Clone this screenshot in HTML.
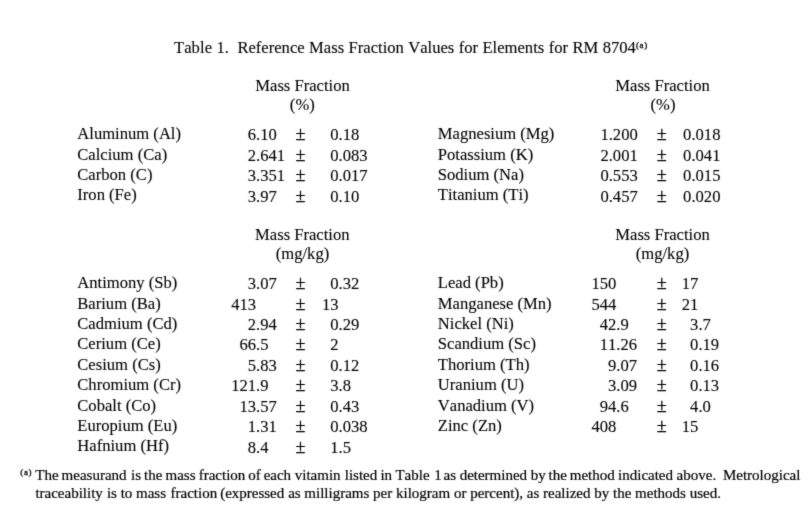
<!DOCTYPE html>
<html><head><meta charset="utf-8"><title>Table 1</title>
<style>
html,body{margin:0;padding:0;background:#fff;}
body{width:809px;height:512px;position:relative;overflow:hidden;font-family:"Liberation Serif",serif;color:#000;font-kerning:none;-webkit-text-stroke:0.1px #000;}
#w{position:absolute;left:0;top:0;width:809px;height:512px;will-change:transform;filter:url(#soft);}
.t{position:absolute;white-space:nowrap;line-height:1;}
.c{transform:translateX(-50%);}
.r{transform:translateX(-100%);}
.w{position:relative;}
.sup{font-size:9.0px;letter-spacing:0.65px;position:relative;top:-5.2px;margin-left:0.1px;-webkit-text-stroke:0.3px #000;}
.fsup{font-size:9.0px;letter-spacing:0.65px;position:relative;top:-5.1px;-webkit-text-stroke:0.3px #000;}
</style></head><body>
<svg width="0" height="0" style="position:absolute"><defs><filter id="soft" x="0" y="0" width="100%" height="100%" color-interpolation-filters="sRGB"><feConvolveMatrix order="3" preserveAlpha="false" divisor="1" kernelMatrix="0.02 0.08 0.02 0.08 0.6 0.08 0.02 0.08 0.02" edgeMode="duplicate"/></filter></defs></svg>
<div id="w">
<div id="i0" class="t" style="left:174.30px;top:40px;font-size:16.6px;word-spacing:0.27px;"><span class="w" style="left:-0.4px;letter-spacing:0.1px">Table</span> <span class="w" style="left:-0.5px">1.&nbsp;</span> <span class="w" style="left:-0.9px">Reference</span> <span class="w" style="left:-0.9px">Mass</span> <span class="w" style="left:-0.9px">Fraction</span> <span class="w" style="left:-1.0px">Values</span> <span class="w" style="left:-1.0px">for</span> <span class="w" style="left:-1.0px">Elements</span> <span class="w" style="left:-1.0px">for</span> <span class="w" style="left:-1.0px">RM</span> <span class="w" style="left:-1.0px">8704<span class="sup">(a)</span></span></div>
<div id="i1" class="t c" style="left:302.50px;top:78px;font-size:16.6px;">Mass Fraction</div>
<div id="i2" class="t c" style="left:302.30px;top:97px;font-size:16.6px;">(%)</div>
<div id="i3" class="t c" style="left:662.50px;top:78px;font-size:16.6px;">Mass Fraction</div>
<div id="i4" class="t c" style="left:663.00px;top:97px;font-size:16.6px;">(%)</div>
<div id="i5" class="t c" style="left:302.30px;top:227px;font-size:16.6px;">Mass Fraction</div>
<div id="i6" class="t c" style="left:302.50px;top:246px;font-size:16.6px;">(mg/kg)</div>
<div id="i7" class="t c" style="left:662.50px;top:227px;font-size:16.6px;">Mass Fraction</div>
<div id="i8" class="t c" style="left:662.50px;top:246px;font-size:16.6px;">(mg/kg)</div>
<div id="i9" class="t" style="left:77.30px;top:126px;font-size:16.6px;">Aluminum (Al)</div>
<div id="i10" class="t" style="left:295.60px;top:125px;font-size:18.2px;-webkit-text-stroke:0.3px #000;color:#000;">&plusmn;</div>
<div id="i11" class="t r" style="left:256.10px;top:127px;font-size:16.6px;">6</div>
<div id="i12" class="t" style="left:256.10px;top:127px;font-size:16.6px;">.10</div>
<div id="i13" class="t r" style="left:338.60px;top:127px;font-size:16.6px;">0</div>
<div id="i14" class="t" style="left:338.60px;top:127px;font-size:16.6px;">.18</div>
<div id="i15" class="t" style="left:77.30px;top:147px;font-size:16.6px;">Calcium (Ca)</div>
<div id="i16" class="t" style="left:295.60px;top:146px;font-size:18.2px;-webkit-text-stroke:0.3px #000;color:#000;">&plusmn;</div>
<div id="i17" class="t r" style="left:256.10px;top:148px;font-size:16.6px;">2</div>
<div id="i18" class="t" style="left:256.10px;top:148px;font-size:16.6px;">.641</div>
<div id="i19" class="t r" style="left:338.60px;top:148px;font-size:16.6px;">0</div>
<div id="i20" class="t" style="left:338.60px;top:148px;font-size:16.6px;">.083</div>
<div id="i21" class="t" style="left:77.30px;top:167px;font-size:16.6px;">Carbon (C)</div>
<div id="i22" class="t" style="left:295.60px;top:166px;font-size:18.2px;-webkit-text-stroke:0.3px #000;color:#000;">&plusmn;</div>
<div id="i23" class="t r" style="left:256.10px;top:168px;font-size:16.6px;">3</div>
<div id="i24" class="t" style="left:256.10px;top:168px;font-size:16.6px;">.351</div>
<div id="i25" class="t r" style="left:338.60px;top:168px;font-size:16.6px;">0</div>
<div id="i26" class="t" style="left:338.60px;top:168px;font-size:16.6px;">.017</div>
<div id="i27" class="t" style="left:77.30px;top:187px;font-size:16.6px;">Iron (Fe)</div>
<div id="i28" class="t" style="left:295.60px;top:187px;font-size:18.2px;-webkit-text-stroke:0.3px #000;color:#000;">&plusmn;</div>
<div id="i29" class="t r" style="left:256.10px;top:189px;font-size:16.6px;">3</div>
<div id="i30" class="t" style="left:256.10px;top:189px;font-size:16.6px;">.97</div>
<div id="i31" class="t r" style="left:338.60px;top:189px;font-size:16.6px;">0</div>
<div id="i32" class="t" style="left:338.60px;top:189px;font-size:16.6px;">.10</div>
<div id="i33" class="t" style="left:437.80px;top:126px;font-size:16.6px;">Magnesium (Mg)</div>
<div id="i34" class="t" style="left:656.70px;top:125px;font-size:18.2px;-webkit-text-stroke:0.3px #000;color:#000;">&plusmn;</div>
<div id="i35" class="t r" style="left:608.70px;top:127px;font-size:16.6px;">1</div>
<div id="i36" class="t" style="left:608.70px;top:127px;font-size:16.6px;">.200</div>
<div id="i37" class="t r" style="left:691.40px;top:127px;font-size:16.6px;">0</div>
<div id="i38" class="t" style="left:691.40px;top:127px;font-size:16.6px;">.018</div>
<div id="i39" class="t" style="left:437.80px;top:147px;font-size:16.6px;">Potassium (K)</div>
<div id="i40" class="t" style="left:656.70px;top:146px;font-size:18.2px;-webkit-text-stroke:0.3px #000;color:#000;">&plusmn;</div>
<div id="i41" class="t r" style="left:608.70px;top:148px;font-size:16.6px;">2</div>
<div id="i42" class="t" style="left:608.70px;top:148px;font-size:16.6px;">.001</div>
<div id="i43" class="t r" style="left:691.40px;top:148px;font-size:16.6px;">0</div>
<div id="i44" class="t" style="left:691.40px;top:148px;font-size:16.6px;">.041</div>
<div id="i45" class="t" style="left:437.80px;top:167px;font-size:16.6px;">Sodium (Na)</div>
<div id="i46" class="t" style="left:656.70px;top:166px;font-size:18.2px;-webkit-text-stroke:0.3px #000;color:#000;">&plusmn;</div>
<div id="i47" class="t r" style="left:608.70px;top:168px;font-size:16.6px;">0</div>
<div id="i48" class="t" style="left:608.70px;top:168px;font-size:16.6px;">.553</div>
<div id="i49" class="t r" style="left:691.40px;top:168px;font-size:16.6px;">0</div>
<div id="i50" class="t" style="left:691.40px;top:168px;font-size:16.6px;">.015</div>
<div id="i51" class="t" style="left:437.80px;top:187px;font-size:16.6px;">Titanium (Ti)</div>
<div id="i52" class="t" style="left:656.70px;top:187px;font-size:18.2px;-webkit-text-stroke:0.3px #000;color:#000;">&plusmn;</div>
<div id="i53" class="t r" style="left:608.70px;top:189px;font-size:16.6px;">0</div>
<div id="i54" class="t" style="left:608.70px;top:189px;font-size:16.6px;">.457</div>
<div id="i55" class="t r" style="left:691.40px;top:189px;font-size:16.6px;">0</div>
<div id="i56" class="t" style="left:691.40px;top:189px;font-size:16.6px;">.020</div>
<div id="i57" class="t" style="left:77.30px;top:275px;font-size:16.6px;">Antimony (Sb)</div>
<div id="i58" class="t" style="left:295.60px;top:274px;font-size:18.2px;-webkit-text-stroke:0.3px #000;color:#000;">&plusmn;</div>
<div id="i59" class="t r" style="left:256.10px;top:276px;font-size:16.6px;">3</div>
<div id="i60" class="t" style="left:256.10px;top:276px;font-size:16.6px;">.07</div>
<div id="i61" class="t r" style="left:338.60px;top:276px;font-size:16.6px;">0</div>
<div id="i62" class="t" style="left:338.60px;top:276px;font-size:16.6px;">.32</div>
<div id="i63" class="t" style="left:77.30px;top:296px;font-size:16.6px;">Barium (Ba)</div>
<div id="i64" class="t" style="left:295.60px;top:295px;font-size:18.2px;-webkit-text-stroke:0.3px #000;color:#000;">&plusmn;</div>
<div id="i65" class="t r" style="left:256.10px;top:297px;font-size:16.6px;">413</div>
<div id="i66" class="t r" style="left:338.60px;top:297px;font-size:16.6px;">13</div>
<div id="i67" class="t" style="left:77.30px;top:316px;font-size:16.6px;">Cadmium (Cd)</div>
<div id="i68" class="t" style="left:295.60px;top:315px;font-size:18.2px;-webkit-text-stroke:0.3px #000;color:#000;">&plusmn;</div>
<div id="i69" class="t r" style="left:256.10px;top:317px;font-size:16.6px;">2</div>
<div id="i70" class="t" style="left:256.10px;top:317px;font-size:16.6px;">.94</div>
<div id="i71" class="t r" style="left:338.60px;top:317px;font-size:16.6px;">0</div>
<div id="i72" class="t" style="left:338.60px;top:317px;font-size:16.6px;">.29</div>
<div id="i73" class="t" style="left:77.30px;top:336px;font-size:16.6px;">Cerium (Ce)</div>
<div id="i74" class="t" style="left:295.60px;top:335px;font-size:18.2px;-webkit-text-stroke:0.3px #000;color:#000;">&plusmn;</div>
<div id="i75" class="t r" style="left:256.10px;top:337px;font-size:16.6px;">66</div>
<div id="i76" class="t" style="left:256.10px;top:337px;font-size:16.6px;">.5</div>
<div id="i77" class="t r" style="left:338.60px;top:337px;font-size:16.6px;">2</div>
<div id="i78" class="t" style="left:77.30px;top:357px;font-size:16.6px;">Cesium (Cs)</div>
<div id="i79" class="t" style="left:295.60px;top:356px;font-size:18.2px;-webkit-text-stroke:0.3px #000;color:#000;">&plusmn;</div>
<div id="i80" class="t r" style="left:256.10px;top:358px;font-size:16.6px;">5</div>
<div id="i81" class="t" style="left:256.10px;top:358px;font-size:16.6px;">.83</div>
<div id="i82" class="t r" style="left:338.60px;top:358px;font-size:16.6px;">0</div>
<div id="i83" class="t" style="left:338.60px;top:358px;font-size:16.6px;">.12</div>
<div id="i84" class="t" style="left:77.30px;top:377px;font-size:16.6px;">Chromium (Cr)</div>
<div id="i85" class="t" style="left:295.60px;top:376px;font-size:18.2px;-webkit-text-stroke:0.3px #000;color:#000;">&plusmn;</div>
<div id="i86" class="t r" style="left:256.10px;top:378px;font-size:16.6px;">121</div>
<div id="i87" class="t" style="left:256.10px;top:378px;font-size:16.6px;">.9</div>
<div id="i88" class="t r" style="left:338.60px;top:378px;font-size:16.6px;">3</div>
<div id="i89" class="t" style="left:338.60px;top:378px;font-size:16.6px;">.8</div>
<div id="i90" class="t" style="left:77.30px;top:398px;font-size:16.6px;">Cobalt (Co)</div>
<div id="i91" class="t" style="left:295.60px;top:397px;font-size:18.2px;-webkit-text-stroke:0.3px #000;color:#000;">&plusmn;</div>
<div id="i92" class="t r" style="left:256.10px;top:399px;font-size:16.6px;">13</div>
<div id="i93" class="t" style="left:256.10px;top:399px;font-size:16.6px;">.57</div>
<div id="i94" class="t r" style="left:338.60px;top:399px;font-size:16.6px;">0</div>
<div id="i95" class="t" style="left:338.60px;top:399px;font-size:16.6px;">.43</div>
<div id="i96" class="t" style="left:77.30px;top:418px;font-size:16.6px;">Europium (Eu)</div>
<div id="i97" class="t" style="left:295.60px;top:417px;font-size:18.2px;-webkit-text-stroke:0.3px #000;color:#000;">&plusmn;</div>
<div id="i98" class="t r" style="left:256.10px;top:419px;font-size:16.6px;">1</div>
<div id="i99" class="t" style="left:256.10px;top:419px;font-size:16.6px;">.31</div>
<div id="i100" class="t r" style="left:338.60px;top:419px;font-size:16.6px;">0</div>
<div id="i101" class="t" style="left:338.60px;top:419px;font-size:16.6px;">.038</div>
<div id="i102" class="t" style="left:77.30px;top:438px;font-size:16.6px;">Hafnium (Hf)</div>
<div id="i103" class="t" style="left:295.60px;top:438px;font-size:18.2px;-webkit-text-stroke:0.3px #000;color:#000;">&plusmn;</div>
<div id="i104" class="t r" style="left:256.10px;top:440px;font-size:16.6px;">8</div>
<div id="i105" class="t" style="left:256.10px;top:440px;font-size:16.6px;">.4</div>
<div id="i106" class="t r" style="left:338.60px;top:440px;font-size:16.6px;">1</div>
<div id="i107" class="t" style="left:338.60px;top:440px;font-size:16.6px;">.5</div>
<div id="i108" class="t" style="left:437.80px;top:275px;font-size:16.6px;">Lead (Pb)</div>
<div id="i109" class="t" style="left:656.70px;top:274px;font-size:18.2px;-webkit-text-stroke:0.3px #000;color:#000;">&plusmn;</div>
<div id="i110" class="t r" style="left:616.30px;top:276px;font-size:16.6px;">150</div>
<div id="i111" class="t r" style="left:698.40px;top:276px;font-size:16.6px;">17</div>
<div id="i112" class="t" style="left:437.80px;top:296px;font-size:16.6px;">Manganese (Mn)</div>
<div id="i113" class="t" style="left:656.70px;top:295px;font-size:18.2px;-webkit-text-stroke:0.3px #000;color:#000;">&plusmn;</div>
<div id="i114" class="t r" style="left:616.30px;top:297px;font-size:16.6px;">544</div>
<div id="i115" class="t r" style="left:698.40px;top:297px;font-size:16.6px;">21</div>
<div id="i116" class="t" style="left:437.80px;top:316px;font-size:16.6px;">Nickel (Ni)</div>
<div id="i117" class="t" style="left:656.70px;top:315px;font-size:18.2px;-webkit-text-stroke:0.3px #000;color:#000;">&plusmn;</div>
<div id="i118" class="t r" style="left:616.30px;top:317px;font-size:16.6px;">42</div>
<div id="i119" class="t" style="left:616.30px;top:317px;font-size:16.6px;">.9</div>
<div id="i120" class="t r" style="left:698.40px;top:317px;font-size:16.6px;">3</div>
<div id="i121" class="t" style="left:698.40px;top:317px;font-size:16.6px;">.7</div>
<div id="i122" class="t" style="left:437.80px;top:336px;font-size:16.6px;">Scandium (Sc)</div>
<div id="i123" class="t" style="left:656.70px;top:335px;font-size:18.2px;-webkit-text-stroke:0.3px #000;color:#000;">&plusmn;</div>
<div id="i124" class="t r" style="left:616.30px;top:337px;font-size:16.6px;">11</div>
<div id="i125" class="t" style="left:616.30px;top:337px;font-size:16.6px;">.26</div>
<div id="i126" class="t r" style="left:698.40px;top:337px;font-size:16.6px;">0</div>
<div id="i127" class="t" style="left:698.40px;top:337px;font-size:16.6px;">.19</div>
<div id="i128" class="t" style="left:437.80px;top:357px;font-size:16.6px;">Thorium (Th)</div>
<div id="i129" class="t" style="left:656.70px;top:356px;font-size:18.2px;-webkit-text-stroke:0.3px #000;color:#000;">&plusmn;</div>
<div id="i130" class="t r" style="left:616.30px;top:358px;font-size:16.6px;">9</div>
<div id="i131" class="t" style="left:616.30px;top:358px;font-size:16.6px;">.07</div>
<div id="i132" class="t r" style="left:698.40px;top:358px;font-size:16.6px;">0</div>
<div id="i133" class="t" style="left:698.40px;top:358px;font-size:16.6px;">.16</div>
<div id="i134" class="t" style="left:437.80px;top:377px;font-size:16.6px;">Uranium (U)</div>
<div id="i135" class="t" style="left:656.70px;top:376px;font-size:18.2px;-webkit-text-stroke:0.3px #000;color:#000;">&plusmn;</div>
<div id="i136" class="t r" style="left:616.30px;top:378px;font-size:16.6px;">3</div>
<div id="i137" class="t" style="left:616.30px;top:378px;font-size:16.6px;">.09</div>
<div id="i138" class="t r" style="left:698.40px;top:378px;font-size:16.6px;">0</div>
<div id="i139" class="t" style="left:698.40px;top:378px;font-size:16.6px;">.13</div>
<div id="i140" class="t" style="left:437.80px;top:398px;font-size:16.6px;">Vanadium (V)</div>
<div id="i141" class="t" style="left:656.70px;top:397px;font-size:18.2px;-webkit-text-stroke:0.3px #000;color:#000;">&plusmn;</div>
<div id="i142" class="t r" style="left:616.30px;top:399px;font-size:16.6px;">94</div>
<div id="i143" class="t" style="left:616.30px;top:399px;font-size:16.6px;">.6</div>
<div id="i144" class="t r" style="left:698.40px;top:399px;font-size:16.6px;">4</div>
<div id="i145" class="t" style="left:698.40px;top:399px;font-size:16.6px;">.0</div>
<div id="i146" class="t" style="left:437.80px;top:418px;font-size:16.6px;">Zinc (Zn)</div>
<div id="i147" class="t" style="left:656.70px;top:417px;font-size:18.2px;-webkit-text-stroke:0.3px #000;color:#000;">&plusmn;</div>
<div id="i148" class="t r" style="left:616.30px;top:419px;font-size:16.6px;">408</div>
<div id="i149" class="t r" style="left:698.40px;top:419px;font-size:16.6px;">15</div>
<div id="i150" class="t" style="left:20.30px;top:468px;font-size:15.0px;"><span class="fsup">(a)</span></div>
<div id="i151" class="t" style="left:35.70px;top:468px;font-size:15.0px;-webkit-text-stroke:0.2px #000;"><span class="w" style="left:-0.4px">The</span> <span class="w" style="left:-1.2px">measurand</span> <span class="w" style="left:-0.5px">is</span> <span class="w" style="left:-1.2px">the</span> <span class="w" style="left:-1.8px">mass</span> <span class="w" style="left:-2.4px">fraction</span> <span class="w" style="left:-3.2px">of</span> <span class="w" style="left:-4.1px">each</span> <span class="w" style="left:-4.2px">vitamin</span> <span class="w" style="left:-3.8px">listed</span> <span class="w" style="left:-4.4px">in</span> <span class="w" style="left:-4.8px">Table</span> <span class="w" style="left:-4.0px">1</span> <span class="w" style="left:-5.8px">as</span> <span class="w" style="left:-6.0px">determined</span> <span class="w" style="left:-6.2px">by</span> <span class="w" style="left:-7.0px">the</span> <span class="w" style="left:-7.9px">method</span> <span class="w" style="left:-8.4px">indicated</span> <span class="w" style="left:-8.6px">above.&nbsp;</span> <span class="w" style="left:-9.3px">Metrological</span></div>
<div id="i152" class="t" style="left:35.70px;top:486px;font-size:15.0px;-webkit-text-stroke:0.2px #000;"><span class="w" style="left:-0.3px">traceability</span> is to <span class="w" style="left:-0.1px">mass</span> <span class="w" style="left:0.7px">fraction</span> <span class="w" style="left:-0.1px">(expressed</span> as milligrams per kilogram or percent), as realized by the methods used.</div>
</div></body></html>
